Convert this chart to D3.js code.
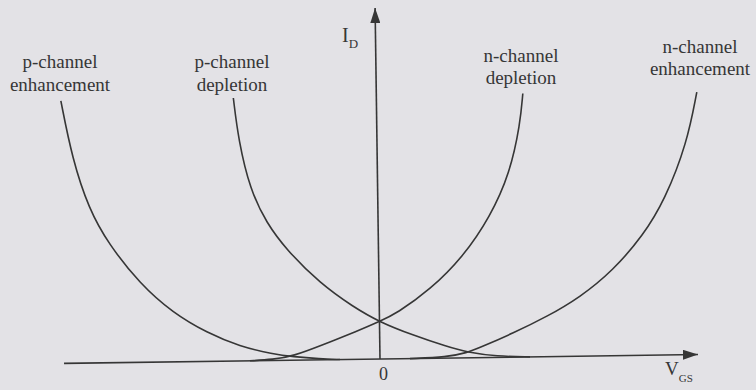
<!DOCTYPE html>
<html>
<head>
<meta charset="utf-8">
<script src="https://cdn.jsdelivr.net/npm/d3@7"></script>
<style>
  html, body { margin: 0; padding: 0; background: #e3e2e6; }
  svg { display: block; }
  text { font-family: "Liberation Serif", "DejaVu Serif", serif; fill: #363636; }
</style>
</head>
<body>
<svg id="chart" width="756" height="390"></svg>
<script>
// ---- data (V_GS in volts-like units, I_D in mA-like units) ----
const pEnhV  = [-6.31, -6.10, -5.78, -5.40, -4.78, -4.13, -3.45, -2.80, -2.14, -1.74, -1.20, -0.80];
const pEnhI  = [ 5.25,  4.10,  3.08,  2.38,  1.57,  0.98,  0.57,  0.29,  0.13,  0.07,  0.02,  0.00];

const pDepV  = [-2.86, -2.77, -2.55, -2.23, -1.84, -1.18, -0.52, 0.00, 0.66, 1.34, 1.74, 2.34, 3.00];
const pDepI  = [ 5.26,  4.42,  3.42,  2.75,  2.21,  1.53,  1.05, 0.74, 0.47, 0.23, 0.11, 0.02, 0.00];

const nDepV  = [-2.60, -2.14, -1.74, -1.14, -0.46, 0.00, 0.35, 1.02, 1.69, 2.24, 2.65, 2.87, 2.93];
const nDepI  = [ 0.00,  0.02,  0.08,  0.30,  0.56, 0.75, 0.91, 1.37, 2.02, 2.81, 3.68, 4.67, 5.27];

const nEnhV  = [0.60, 1.34, 1.74, 2.00, 2.67, 3.35, 4.02, 4.68, 5.30, 5.74, 6.20, 6.41];
const nEnhI  = [0.00, 0.02, 0.10, 0.20, 0.48, 0.80, 1.18, 1.70, 2.40, 3.10, 4.23, 5.25];

const labelLines = [
  ["p-channel", "enhancement"],
  ["p-channel", "depletion"],
  ["n-channel", "depletion"],
  ["n-channel", "enhancement"]
];
const xAxisLabel = "V";
const xAxisSub = "GS";
const yAxisLabel = "I";
const yAxisSub = "D";
const originLabel = "0";
const xDomain = [-6.32, 6.36];
const yDomain = [0, 7.02];

// ---- layout ----
const svg = d3.select("#chart");
const ink = "#363636";
const x = d3.scaleLinear().domain(xDomain).range([64, 698]);
const y = d3.scaleLinear().domain(yDomain).range([359, 8]);

const defs = svg.append("defs");
defs.append("marker")
  .attr("id", "arrow")
  .attr("viewBox", "0 0 15 10")
  .attr("refX", 15).attr("refY", 5)
  .attr("markerWidth", 15).attr("markerHeight", 10)
  .attr("markerUnits", "userSpaceOnUse")
  .attr("orient", "auto")
  .append("path").attr("d", "M0,0L15,5L0,10Z").attr("fill", ink);

// slight tilt of the scanned figure
const g = svg.append("g").attr("transform", `rotate(-0.8, ${x(0)}, ${y(0)})`);

// axes
g.append("line")
  .attr("x1", x(xDomain[0])).attr("y1", y(0))
  .attr("x2", x(xDomain[1])).attr("y2", y(0))
  .attr("stroke", ink).attr("stroke-width", 1.6)
  .attr("marker-end", "url(#arrow)");
g.append("line")
  .attr("x1", x(0)).attr("y1", y(0))
  .attr("x2", x(0)).attr("y2", y(yDomain[1]))
  .attr("stroke", ink).attr("stroke-width", 1.6)
  .attr("marker-end", "url(#arrow)");

// curves
const series = [
  d3.zip(pEnhV, pEnhI),
  d3.zip(pDepV, pDepI),
  d3.zip(nDepV, nDepI),
  d3.zip(nEnhV, nEnhI)
];
const line = d3.line()
  .x(d => x(d[0]))
  .y(d => y(d[1]))
  .curve(d3.curveBasis);

g.selectAll("path.curve")
  .data(series)
  .join("path")
  .attr("class", "curve")
  .attr("d", line)
  .attr("fill", "none")
  .attr("stroke", ink)
  .attr("stroke-width", 1.6);

// curve labels
const labelPos = [
  { x: 60,  y: 68, dy: 23 },
  { x: 232, y: 68, dy: 23 },
  { x: 521, y: 62, dy: 21.5 },
  { x: 700, y: 53, dy: 22 }
];
labelLines.forEach((lines, i) => {
  const t = svg.append("text")
    .attr("text-anchor", "middle")
    .attr("font-size", 19);
  lines.forEach((s, j) => {
    t.append("tspan")
      .attr("x", labelPos[i].x)
      .attr("y", labelPos[i].y + j * labelPos[i].dy)
      .text(s);
  });
});

// axis labels
const yl = svg.append("text").attr("x", 342).attr("y", 42).attr("font-size", 20).text(yAxisLabel);
yl.append("tspan").attr("dy", 6).attr("font-size", 13).text(yAxisSub);

const xl = svg.append("text").attr("x", 665).attr("y", 375).attr("font-size", 19).text(xAxisLabel);
xl.append("tspan").attr("dy", 7).attr("font-size", 11).text(xAxisSub);

svg.append("text")
  .attr("x", x(0) + 3.5).attr("y", 380)
  .attr("text-anchor", "middle")
  .attr("font-size", 18)
  .text(originLabel);
</script>
</body>
</html>
